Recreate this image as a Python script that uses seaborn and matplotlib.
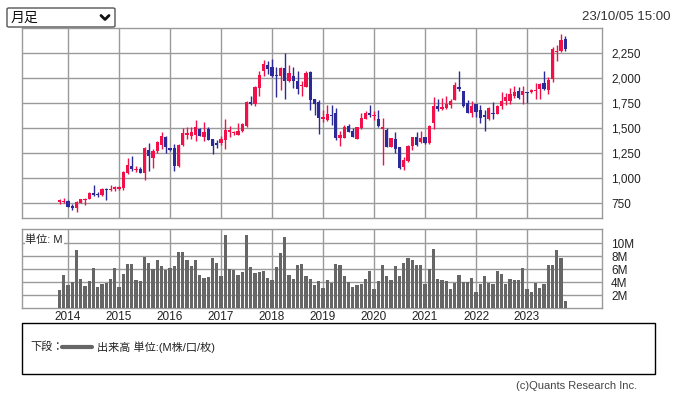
import numpy as np
import pandas as pd
import seaborn as sns
import matplotlib.pyplot as plt
from matplotlib.patches import Rectangle, FancyBboxPatch
from matplotlib.lines import Line2D

# 月足データ (2013/11 - 2023/10)
months = pd.period_range("2013-11", "2023-10", freq="M")

opens = [
    757, 763,
    773, 720, 697, 753, 780, 786, 852, 842, 826, 888, 882, 895,
    891, 905, 1049, 1118, 1085, 1089, 1049, 1276, 1200, 1270, 1326, 1414,
    1296, 1296, 1122, 1329, 1427, 1423, 1433, 1490, 1413, 1493, 1390, 1350,
    1350, 1377, 1460, 1447, 1430, 1470, 1520, 1763, 1737, 1900, 2073, 2133,
    2107, 2030, 2023, 2100, 1967, 2020, 1973, 1917, 1913, 2063, 1790, 1763,
    1590, 1580, 1630, 1647, 1397, 1403, 1520, 1470, 1393, 1503, 1590, 1647,
    1620, 1590, 1493, 1480, 1313, 1390, 1313, 1113, 1170, 1320, 1407, 1363,
    1407, 1347, 1547, 1723, 1693, 1700, 1733, 1783, 1907, 1873, 1750, 1650,
    1740, 1683, 1633, 1593, 1653, 1643, 1717, 1767, 1773, 1817, 1873, 1833,
    1860, 1860, 1867, 1890, 1950, 1883, 1993, 2260, 2273, 2393,
]
highs = [
    790, 800,
    776, 743, 766, 790, 803, 858, 931, 865, 898, 898, 931, 921,
    924, 1072, 1197, 1217, 1122, 1115, 1306, 1349, 1293, 1368, 1464, 1424,
    1300, 1342, 1342, 1500, 1510, 1513, 1580, 1500, 1557, 1513, 1390, 1380,
    1423, 1593, 1517, 1473, 1547, 1547, 1770, 1820, 1920, 2067, 2177, 2173,
    2190, 2107, 2110, 2250, 2127, 2113, 2073, 1973, 2067, 2073, 1790, 1783,
    1680, 1730, 1730, 1697, 1473, 1530, 1537, 1497, 1513, 1647, 1673, 1730,
    1673, 1680, 1597, 1497, 1400, 1463, 1313, 1213, 1330, 1413, 1457, 1470,
    1413, 1530, 1813, 1787, 1800, 1820, 1793, 1960, 2067, 1873, 1783, 1767,
    1740, 1727, 1677, 1710, 1760, 1733, 1860, 1853, 1900, 1917, 1907, 1917,
    1860, 1890, 1950, 1950, 2067, 2007, 2307, 2333, 2440, 2417,
]
lows = [
    737, 753,
    707, 677, 661, 750, 727, 786, 819, 806, 819, 776, 872, 875,
    880, 881, 1039, 1072, 1056, 1049, 984, 1072, 1102, 1253, 1286, 1253,
    1270, 1072, 1115, 1319, 1393, 1393, 1367, 1417, 1367, 1377, 1243, 1300,
    1327, 1293, 1410, 1430, 1427, 1463, 1513, 1727, 1723, 1817, 2017, 2043,
    2010, 1810, 1880, 1790, 1957, 1900, 1843, 1817, 1907, 1683, 1627, 1440,
    1563, 1570, 1530, 1380, 1320, 1403, 1457, 1407, 1393, 1493, 1590, 1613,
    1580, 1513, 1130, 1307, 1307, 1247, 1093, 1080, 1163, 1280, 1320, 1353,
    1340, 1340, 1487, 1673, 1683, 1690, 1700, 1783, 1867, 1713, 1650, 1607,
    1607, 1550, 1473, 1577, 1593, 1643, 1693, 1733, 1740, 1800, 1793, 1743,
    1750, 1853, 1790, 1790, 1883, 1843, 1960, 2167, 2260, 2273,
]
closes = [
    780, 773,
    714, 704, 760, 786, 793, 855, 832, 826, 891, 878, 891, 911,
    914, 1062, 1128, 1089, 1095, 1052, 1296, 1220, 1270, 1359, 1424, 1309,
    1283, 1122, 1329, 1451, 1450, 1460, 1510, 1423, 1460, 1383, 1323, 1333,
    1387, 1480, 1477, 1457, 1473, 1537, 1760, 1740, 1910, 2027, 2140, 2090,
    2023, 2020, 2100, 1973, 2047, 1967, 1893, 1930, 2053, 1783, 1740, 1605,
    1610, 1640, 1620, 1403, 1430, 1513, 1463, 1413, 1507, 1600, 1653, 1627,
    1630, 1520, 1507, 1313, 1400, 1293, 1103, 1180, 1320, 1413, 1330, 1400,
    1353, 1520, 1720, 1687, 1707, 1745, 1773, 1933, 1890, 1723, 1650, 1717,
    1660, 1600, 1607, 1700, 1640, 1723, 1773, 1807, 1840, 1857, 1800, 1867,
    1847, 1883, 1883, 1940, 1893, 1983, 2293, 2273, 2377, 2293,
]
# 出来高 (M)
volumes = [
    2.8, 5.1,
    3.6, 4.0, 9.0, 4.5, 3.4, 4.2, 6.2, 3.2, 3.7, 3.9, 4.5, 6.2,
    3.3, 5.3, 6.8, 6.8, 4.4, 4.1, 7.9, 7.0, 6.1, 7.4, 6.5, 5.9,
    6.2, 6.5, 8.7, 8.7, 7.4, 6.5, 7.4, 5.1, 4.7, 4.8, 7.7, 7.0,
    5.0, 11.3, 6.1, 5.9, 5.1, 5.6, 11.3, 6.4, 5.4, 5.6, 5.7, 4.7,
    4.4, 6.4, 8.5, 11.0, 5.1, 4.5, 6.7, 6.8, 5.0, 4.5, 3.6, 4.1,
    3.1, 4.4, 3.9, 6.8, 6.7, 5.0, 4.0, 3.3, 3.6, 3.7, 4.5, 5.7,
    3.0, 4.1, 6.7, 5.0, 4.4, 6.5, 5.0, 7.0, 7.7, 7.4, 6.7, 6.7,
    3.7, 6.1, 9.1, 4.5, 4.4, 4.2, 3.0, 3.9, 5.1, 4.0, 4.0, 4.7,
    2.5, 3.7, 5.0, 3.9, 3.7, 5.7, 5.3, 3.7, 4.5, 4.4, 4.4, 6.2,
    3.0, 2.5, 3.9, 3.1, 3.7, 6.7, 6.7, 9.0, 7.7, 1.1,
]
years = list(range(2014, 2024))
price_ticks = [750, 1000, 1250, 1500, 1750, 2000, 2250]
vol_ticks = [2, 4, 6, 8, 10]

df = pd.DataFrame({"open": opens, "high": highs, "low": lows,
                   "close": closes, "volume": volumes})
df["k"] = [(m.year - 2014) * 12 + m.month - 1 for m in months]

UP = "#f0104a"
DOWN = "#2b2a98"
GRID = "#9a9a9a"
TXT = "#222222"

sns.set_style("white")
plt.rcParams["font.family"] = ["Liberation Sans", "Noto Sans CJK JP"]

W, H = 676, 394
fig = plt.figure(figsize=(W / 100, H / 100), dpi=100)


def rect(x0, y0, x1, y1):
    return [x0 / W, 1 - y1 / H, (x1 - x0) / W, (y1 - y0) / H]


def fx(px):
    return px / W


def fy(py):
    return 1 - py / H


xlim = ((22 - 68) / 4.25, (602 - 68) / 4.25)
year_k = [(y - 2014) * 12 for y in years]

# ローソク足
ax = fig.add_axes(rect(22, 28, 602, 218))
ax.set_axisbelow(True)
up = df["close"] >= df["open"]
colors = np.where(up, UP, DOWN)
ax.vlines(df["k"], df["low"], df["high"], colors=colors, lw=1, zorder=2)
body = (df["close"] - df["open"]).abs().clip(lower=8)
ax.bar(df["k"], body, bottom=df[["open", "close"]].min(axis=1),
       width=0.72, color=colors, linewidth=0, zorder=3)
ax.set_xlim(*xlim)
ax.set_ylim(600, 2500)
ax.set_xticks(year_k)
ax.set_xticklabels([])
ax.set_yticks(price_ticks)
ax.set_yticklabels([f"{v:,}" for v in price_ticks])
ax.yaxis.tick_right()
ax.tick_params(axis="both", length=0)
ax.tick_params(axis="y", pad=6.5, labelsize=8.5, labelcolor=TXT)
ax.grid(True, color=GRID, lw=1)
for s in ax.spines.values():
    s.set_color(GRID)
    s.set_linewidth(1)

# 出来高
axv = fig.add_axes(rect(22, 229, 602, 308))
axv.set_axisbelow(True)
sns.barplot(data=df, x="k", y="volume", native_scale=True, color="#666666",
            saturation=1, width=0.72, linewidth=0, ax=axv, zorder=3)
axv.set_xlim(*xlim)
axv.set_ylim(0, 12.2)
axv.set_xlabel("")
axv.set_ylabel("")
axv.set_xticks(year_k)
axv.set_xticklabels([str(y) for y in years])
axv.set_yticks(vol_ticks)
axv.set_yticklabels([f"{v}M" for v in vol_ticks])
axv.yaxis.tick_right()
axv.tick_params(axis="both", length=0, labelsize=8.5, labelcolor=TXT)
axv.tick_params(axis="y", pad=6.5)
axv.tick_params(axis="x", pad=2)
axv.grid(True, color=GRID, lw=1)
for s in axv.spines.values():
    s.set_color(GRID)
    s.set_linewidth(1)
axv.text(0.006, 0.93, "単位: M", transform=axv.transAxes, ha="left", va="top",
         fontsize=8, color=TXT, zorder=5,
         bbox=dict(facecolor="white", edgecolor="none", pad=0.5))

# 月足セレクタ
fig.patches.append(FancyBboxPatch((fx(7), fy(27)), fx(115) - fx(7), fy(8) - fy(27),
                                  boxstyle="round,pad=0,rounding_size=0.003",
                                  transform=fig.transFigure, facecolor="white",
                                  edgecolor="#555555", lw=1))
fig.text(fx(11), fy(18), "月足", fontsize=10, va="center", ha="left", color="#111111")
fig.add_artist(Line2D([fx(101), fx(105), fx(109)], [fy(15.5), fy(19.5), fy(15.5)],
                      transform=fig.transFigure, color="#111111", lw=2))
fig.text(fx(670), fy(17), "23/10/05 15:00", fontsize=9.5, va="center", ha="right",
         color="#333333")

# 凡例
fig.patches.append(Rectangle((fx(22), fy(374)), fx(655) - fx(22), fy(323) - fy(374),
                             transform=fig.transFigure, facecolor="white",
                             edgecolor="black", lw=1))
fig.text(fx(30), fy(347), "下段：", fontsize=8, va="center", ha="left", color=TXT)
fig.add_artist(Line2D([fx(62), fx(92)], [fy(347), fy(347)],
                      transform=fig.transFigure, color="#666666", lw=3))
fig.text(fx(97), fy(347), "出来高 単位:(M株/口/枚)", fontsize=8, va="center",
         ha="left", color=TXT)
fig.text(fx(637), fy(386), "(c)Quants Research Inc.", fontsize=8, va="center",
         ha="right", color="#444444")

fig.savefig("out.png", dpi=100, facecolor="white")
